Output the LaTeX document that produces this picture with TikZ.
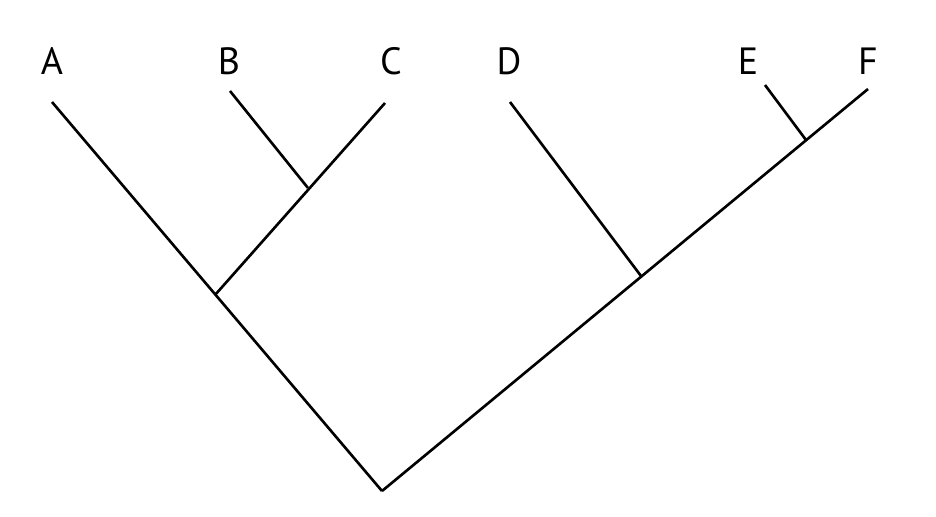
\documentclass[tikz,border=0pt]{standalone}
\usepackage{fontspec}
\setmainfont{PT Sans}
\usetikzlibrary{positioning}
\begin{document}
\begin{tikzpicture}
\tikzstyle{taxon}=[font=\fontsize{10.8}{12}\selectfont, anchor=base, inner sep=0pt]
\tikzstyle{branch}=[draw, line width=0.75pt]

\useasboundingbox (0,0) rectangle (9.36,-5.16);
	% tips and junctions
	\coordinate (root) at (3.82,-4.91);
	\coordinate (t_A) at (0.52,-1.02);
	\coordinate (t_B) at (2.30,-0.91);
	\coordinate (t_C) at (3.85,-1.03);
	\coordinate (t_D) at (5.10,-1.02);
	\coordinate (t_E) at (7.65,-0.85);
	\coordinate (t_F) at (8.68,-0.89);
	\coordinate (j_ABC) at (2.15,-2.95);
	\coordinate (j_BC) at (3.08,-1.88);
	\coordinate (j_DEF) at (6.41,-2.76);
	\coordinate (j_EF) at (8.06,-1.40);

	\node[taxon] (A) at (0.52,-0.74) {A};
	\node[taxon] (B) at (2.29,-0.74) {B};
	\node[taxon] (C) at (3.91,-0.74) {C};
	\node[taxon] (D) at (5.09,-0.74) {D};
	\node[taxon] (E) at (7.48,-0.74) {E};
	\node[taxon] (F) at (8.68,-0.74) {F};

	\path [branch]
		(root) edge [] (t_A)
		(root) edge [] (t_F)
		(j_ABC) edge [] (t_C)
		(t_B) edge [] (j_BC)
		(t_D) edge [] (j_DEF)
		(t_E) edge [] (j_EF);

\end{tikzpicture}
\end{document}
